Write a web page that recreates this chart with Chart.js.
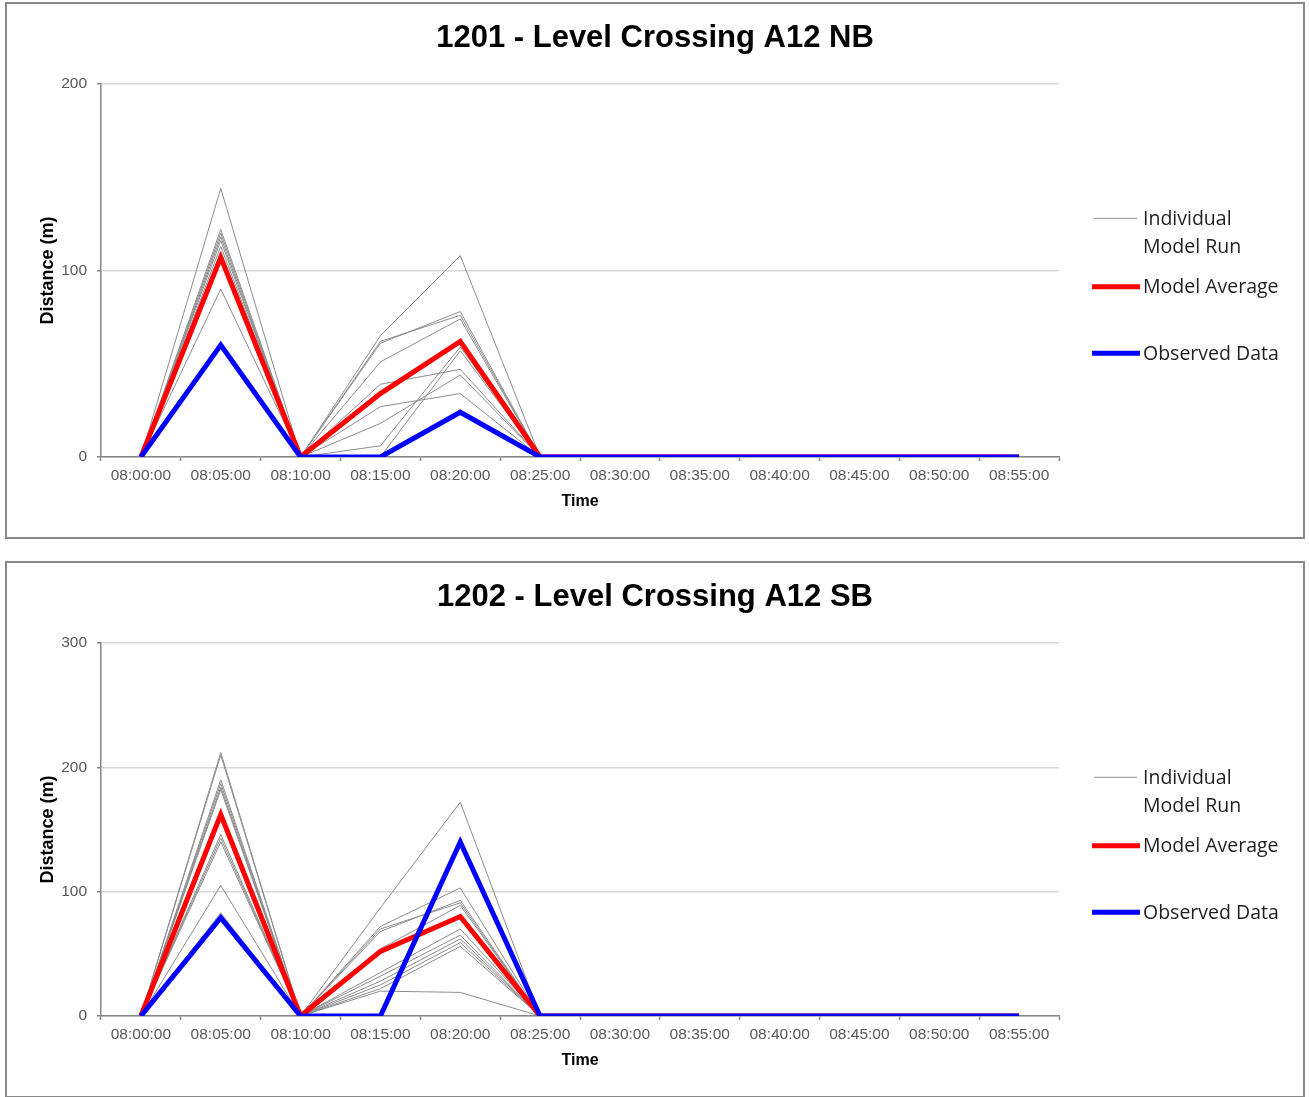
<!DOCTYPE html>
<html><head><meta charset="utf-8">
<script src="https://cdn.jsdelivr.net/npm/chart.js@4.4.1/dist/chart.umd.min.js"></script>
<style>
html,body{margin:0;padding:0;background:#fff;}
body{width:1309px;height:1097px;position:relative;overflow:hidden;}
.box{position:absolute;left:5px;width:1296px;height:533px;border:2px solid #898989;background:#fff;}
#box1{top:2px;}
#box2{top:561px;}
canvas{display:block;}
</style></head><body>
<div class="box" id="box1"><canvas id="c1" width="1296" height="533"></canvas></div>
<div class="box" id="box2"><canvas id="c2" width="1296" height="533"></canvas></div>
<script>
// ---------- DATA ----------
const timeLabels = ["08:00:00","08:05:00","08:10:00","08:15:00","08:20:00","08:25:00","08:30:00","08:35:00","08:40:00","08:45:00","08:50:00","08:55:00"];

const nbTitle = "1201 - Level Crossing A12 NB";
const nbYMax = 200;
const nbObserved = [0, 60, 0, 0, 24, 0, 0, 0, 0, 0, 0, 0];
const nbAverage  = [0, 107, 0, 34, 62, 0, 0, 0, 0, 0, 0, 0];
const nbRun1 = [0, 144, 0, 65, 108, 0, 0, 0, 0, 0, 0, 0];
const nbRun2 = [0, 122, 0, 61, 78, 0, 0, 0, 0, 0, 0, 0];
const nbRun3 = [0, 120, 0, 62, 76, 0, 0, 0, 0, 0, 0, 0];
const nbRun4 = [0, 118, 0, 51, 74, 0, 0, 0, 0, 0, 0, 0];
const nbRun5 = [0, 116, 0, 39, 47, 0, 0, 0, 0, 0, 0, 0];
const nbRun6 = [0, 113, 0, 27, 34, 0, 0, 0, 0, 0, 0, 0];
const nbRun7 = [0, 110, 0, 18, 44, 0, 0, 0, 0, 0, 0, 0];
const nbRun8 = [0, 108, 0, 6, 59, 0, 0, 0, 0, 0, 0, 0];
const nbRun9 = [0, 90, 0, 0, 57, 0, 0, 0, 0, 0, 0, 0];

const sbTitle = "1202 - Level Crossing A12 SB";
const sbYMax = 300;
const sbObserved = [0, 79, 0, 0, 140, 0, 0, 0, 0, 0, 0, 0];
const sbAverage  = [0, 162, 0, 52, 80, 0, 0, 0, 0, 0, 0, 0];
const sbRun1  = [0, 212, 0, 87, 172, 0, 0, 0, 0, 0, 0, 0];
const sbRun2  = [0, 210, 0, 72, 103, 0, 0, 0, 0, 0, 0, 0];
const sbRun3  = [0, 190, 0, 68, 93, 0, 0, 0, 0, 0, 0, 0];
const sbRun4  = [0, 187, 0, 54, 89, 0, 0, 0, 0, 0, 0, 0];
const sbRun5  = [0, 184, 0, 70, 91, 0, 0, 0, 0, 0, 0, 0];
const sbRun6  = [0, 182, 0, 35, 70, 0, 0, 0, 0, 0, 0, 0];
const sbRun7  = [0, 146, 0, 32, 65, 0, 0, 0, 0, 0, 0, 0];
const sbRun8  = [0, 143, 0, 28, 62, 0, 0, 0, 0, 0, 0, 0];
const sbRun9  = [0, 140, 0, 25, 59, 0, 0, 0, 0, 0, 0, 0];
const sbRun10 = [0, 105, 0, 22, 56, 0, 0, 0, 0, 0, 0, 0];
const sbRun11 = [0, 83, 0, 20, 19, 0, 0, 0, 0, 0, 0, 0];

const legendRunText = ["Individual", "Model Run"];
const legendAvgText = "Model Average";
const legendObsText = "Observed Data";

// ---------- STYLE ----------
const FONT = '"Liberation Sans", Arial, sans-serif';
const LEGEND_FONT = '19.5px "Open Sans", sans-serif';
const TITLE_FONT = 'bold 31px "Liberation Sans", Arial, sans-serif';
const RUN_COLOR = '#8c8c8c';
const AVG_COLOR = '#ff0000';
const OBS_COLOR = '#0000ff';

// Title centred on the whole chart box, and side legend
const decorPlugin = {
  id: 'decor',
  afterDraw(chart, args, opts) {
    const ctx = chart.ctx;
    ctx.save();
    // title
    ctx.font = TITLE_FONT;
    ctx.fillStyle = '#000';
    ctx.textAlign = 'center';
    ctx.textBaseline = 'middle';
    ctx.fillText(opts.title, chart.width / 2, 34);

    // legend
    const x0 = chart.chartArea.right;
    const y0 = chart.chartArea.top;
    const items = [
      {color: RUN_COLOR, width: 1, x1: 35, x2: 78, y: 134.3, lines: legendRunText, base: [141, 169]},
      {color: AVG_COLOR, width: 5, x1: 33, x2: 81, y: 202.7, lines: [legendAvgText], base: [208.7]},
      {color: OBS_COLOR, width: 5, x1: 33, x2: 81, y: 269.3, lines: [legendObsText], base: [276]}
    ];
    ctx.font = LEGEND_FONT;
    ctx.fillStyle = '#1f1f1f';
    ctx.textBaseline = 'alphabetic';
    ctx.textAlign = 'left';
    items.forEach(it => {
      ctx.beginPath();
      ctx.strokeStyle = it.color;
      ctx.lineWidth = it.width;
      ctx.lineCap = 'butt';
      ctx.moveTo(x0 + it.x1, y0 + it.y);
      ctx.lineTo(x0 + it.x2, y0 + it.y);
      ctx.stroke();
      it.lines.forEach((t, i) => ctx.fillText(t, x0 + 84, y0 + it.base[i]));
    });
    ctx.restore();
  }
};

function makeChart(id, titleText, yMax, runs, avg, obs) {
  const datasets = [
    {label: legendObsText, data: obs, borderColor: OBS_COLOR, borderWidth: 5, order: 0},
    {label: legendAvgText, data: avg, borderColor: AVG_COLOR, borderWidth: 5, order: 1}
  ];
  runs.forEach(r => datasets.push({label: legendRunText.join(' '), data: r, borderColor: RUN_COLOR, borderWidth: 1, order: 2}));
  return new Chart(document.getElementById(id), {
    type: 'line',
    data: {labels: timeLabels, datasets},
    options: {
      responsive: false,
      animation: false,
      events: [],
      elements: {point: {radius: 0}, line: {tension: 0, borderJoinStyle: 'miter', borderCapStyle: 'butt', fill: false}},
      layout: {padding: {left: 0, right: 244, top: 80, bottom: 0}},
      plugins: {
        legend: {display: false},
        tooltip: {enabled: false},
        title: {display: false},
        decor: {title: titleText}
      },
      scales: {
        x: {
          type: 'category', offset: true,
          grid: {offset: true, drawOnChartArea: false, drawTicks: true, tickLength: 4, tickColor: '#868686', tickWidth: 1.5},
          border: {color: '#868686', width: 1.5},
          ticks: {color: '#595959', font: {family: FONT, size: 15.5}, padding: 5, maxRotation: 0, autoSkip: false},
          title: {display: true, text: 'Time', color: '#000', font: {family: FONT, size: 16, weight: 'bold'}, padding: {top: 0, bottom: 25.7}},
          afterFit(s) { s.height = 80; }
        },
        y: {
          min: 0, max: yMax,
          ticks: {stepSize: 100, color: '#595959', font: {family: FONT, size: 15.5}, padding: 10},
          grid: {color: '#d9d9d9', lineWidth: 1.5, tickLength: 4, tickColor: '#868686', tickWidth: 1.5},
          border: {color: '#868686', width: 1.5},
          title: {display: true, text: 'Distance (m)', color: '#000', font: {family: FONT, size: 18, weight: 'bold'}, padding: {top: 30.7, bottom: 0}},
          afterFit(s) { s.width = 94; }
        }
      }
    },
    plugins: [decorPlugin]
  });
}

makeChart('c1', nbTitle, nbYMax,
  [nbRun1, nbRun2, nbRun3, nbRun4, nbRun5, nbRun6, nbRun7, nbRun8, nbRun9],
  nbAverage, nbObserved);
makeChart('c2', sbTitle, sbYMax,
  [sbRun1, sbRun2, sbRun3, sbRun4, sbRun5, sbRun6, sbRun7, sbRun8, sbRun9, sbRun10, sbRun11],
  sbAverage, sbObserved);
</script>
</body></html>
